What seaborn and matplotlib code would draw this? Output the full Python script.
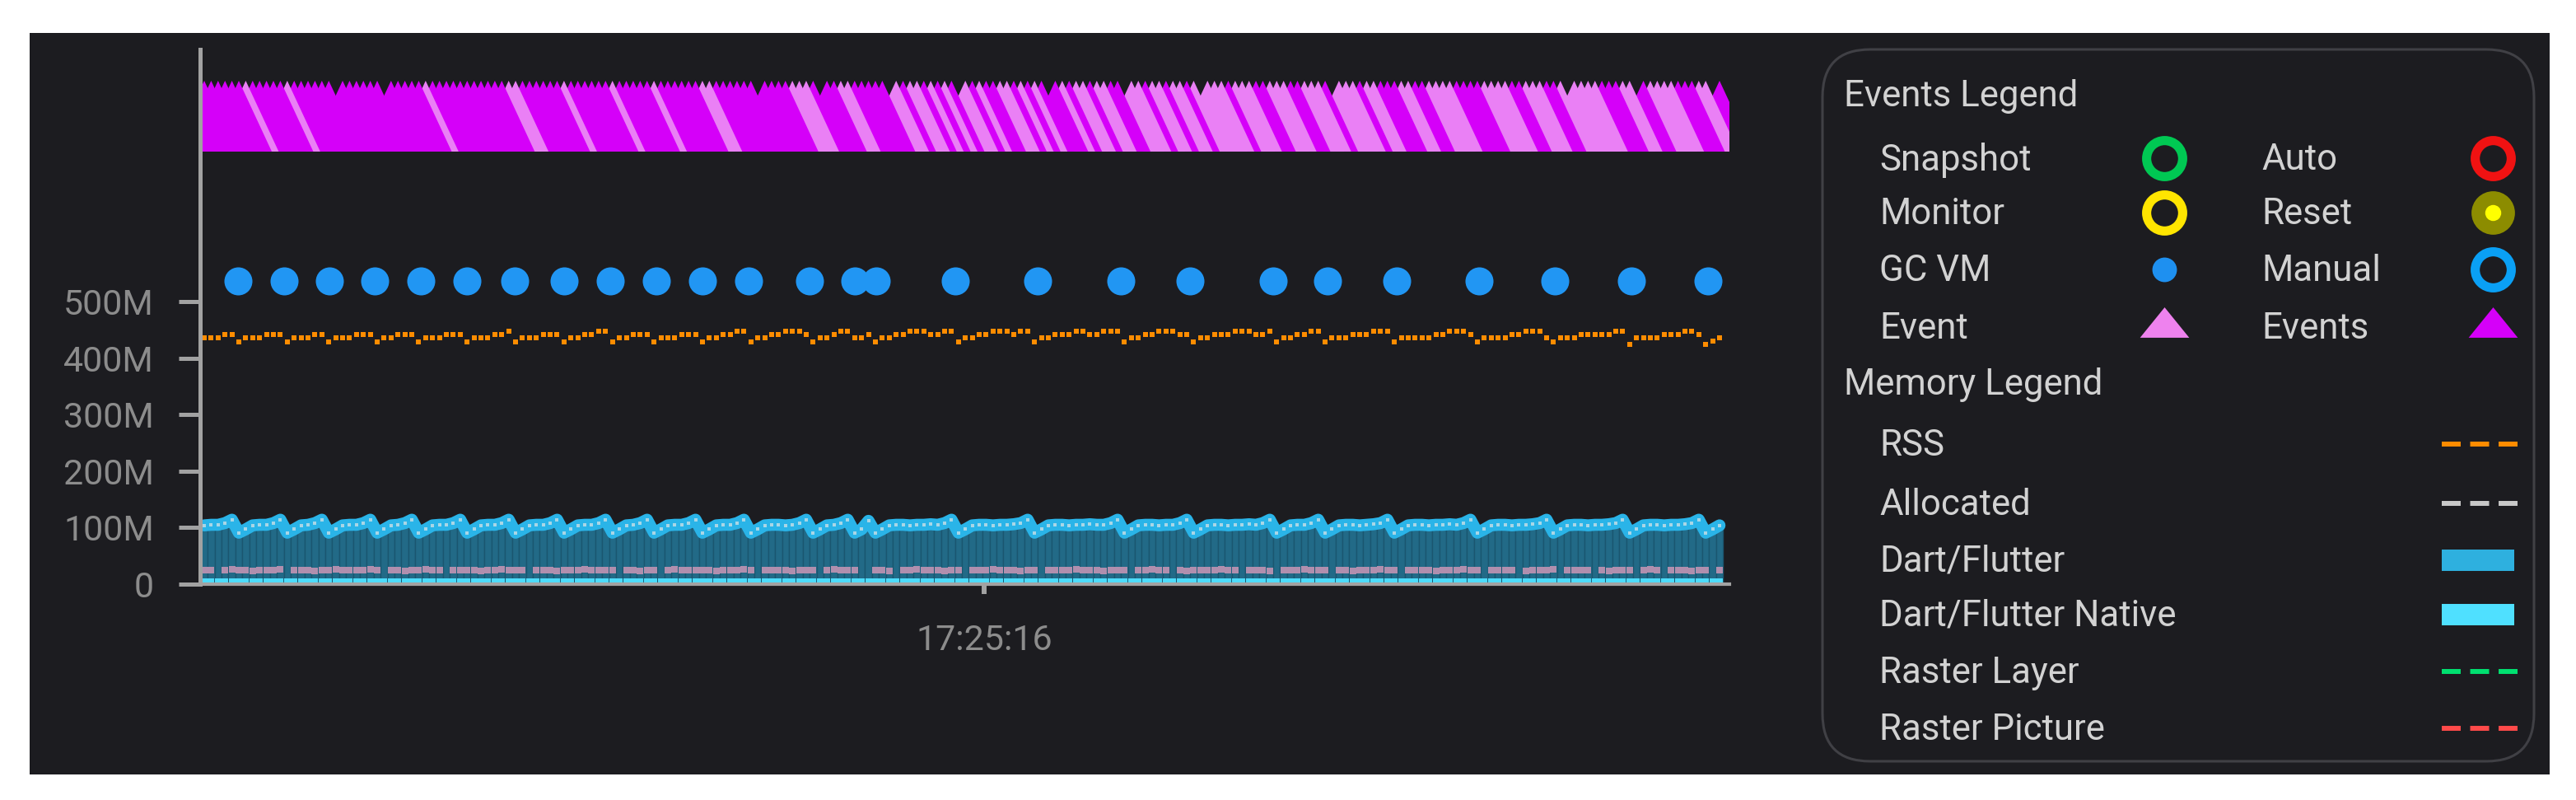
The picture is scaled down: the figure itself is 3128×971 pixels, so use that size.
import numpy as np
import pandas as pd
import matplotlib
matplotlib.use("Agg")
import matplotlib.pyplot as plt
from matplotlib.patches import Rectangle, FancyBboxPatch
import seaborn as sns

# ---------------- data (values in MB, one value per sample) ----------------
RSS_M = [
    436, 436, 436, 442, 442, 429, 436, 436, 436, 442,
    442, 442, 429, 436, 436, 436, 442, 442, 429, 436,
    436, 436, 442, 442, 442, 429, 436, 436, 442, 442,
    442, 429, 436, 436, 436, 442, 442, 442, 429, 436,
    436, 436, 442, 442, 448, 429, 436, 436, 436, 442,
    442, 442, 429, 436, 436, 442, 442, 448, 448, 429,
    436, 436, 442, 442, 442, 429, 436, 436, 436, 442,
    442, 442, 429, 436, 436, 442, 442, 448, 448, 429,
    436, 436, 442, 442, 448, 448, 448, 442, 429, 436,
    436, 442, 448, 448, 436, 436, 442, 429, 436, 436,
    442, 442, 448, 448, 448, 442, 442, 448, 448, 429,
    436, 436, 442, 442, 448, 448, 448, 442, 448, 448,
    429, 436, 436, 442, 442, 442, 448, 448, 442, 442,
    448, 448, 448, 429, 436, 436, 442, 442, 448, 448,
    448, 442, 442, 429, 436, 436, 442, 442, 442, 448,
    448, 448, 442, 442, 448, 429, 436, 436, 442, 442,
    448, 448, 429, 436, 436, 436, 442, 442, 442, 448,
    448, 448, 429, 436, 436, 436, 436, 436, 442, 442,
    448, 448, 448, 442, 429, 436, 436, 436, 436, 442,
    442, 448, 448, 448, 436, 429, 436, 436, 436, 442,
    442, 442, 442, 442, 448, 448, 424, 436, 436, 436,
    436, 442, 442, 442, 448, 448, 442, 424, 430, 436,
]

DART_M = [
    104, 105, 105, 108, 114, 91, 97, 104, 105, 105,
    108, 114, 91, 97, 104, 105, 108, 114, 91, 97,
    104, 105, 105, 108, 114, 91, 97, 104, 105, 108,
    114, 91, 97, 104, 105, 105, 108, 114, 91, 97,
    104, 105, 105, 108, 114, 91, 97, 104, 105, 105,
    108, 114, 91, 97, 104, 105, 105, 108, 114, 91,
    97, 104, 105, 108, 114, 91, 97, 104, 105, 105,
    108, 114, 91, 97, 104, 105, 105, 108, 114, 91,
    97, 104, 105, 105, 104, 105, 108, 114, 91, 97,
    104, 105, 108, 114, 91, 97, 112, 91, 97, 104,
    105, 105, 104, 105, 105, 106, 105, 108, 114, 91,
    97, 104, 105, 105, 104, 105, 105, 106, 108, 114,
    91, 97, 104, 105, 105, 104, 105, 105, 106, 105,
    105, 108, 114, 91, 97, 104, 105, 105, 104, 105,
    105, 108, 114, 91, 97, 104, 105, 105, 104, 105,
    105, 106, 105, 108, 114, 91, 97, 104, 105, 105,
    108, 114, 91, 97, 104, 105, 105, 104, 105, 106,
    108, 114, 91, 97, 104, 105, 105, 104, 105, 105,
    106, 105, 108, 114, 91, 97, 104, 105, 105, 104,
    105, 105, 106, 108, 114, 91, 97, 104, 105, 105,
    104, 105, 105, 106, 108, 114, 91, 97, 104, 105,
    105, 104, 105, 105, 106, 108, 114, 91, 97, 104,
]

NATIVE_M = [
    4, 4, 5, 4, 4, 4, 5, 4, 4, 4,
    4, 5, 4, 4, 4, 4, 4, 5, 4, 4,
    4, 4, 4, 5, 4, 4, 4, 4, 5, 4,
    4, 4, 5, 4, 4, 4, 4, 4, 5, 4,
    4, 5, 4, 4, 4, 4, 5, 4, 4, 4,
    4, 4, 4, 5, 4, 4, 4, 4, 4, 5,
    4, 4, 5, 4, 4, 4, 4, 5, 4, 4,
    4, 4, 4, 4, 5, 4, 4, 4, 5, 4,
    4, 5, 4, 4, 4, 4, 4, 4, 5, 4,
    4, 4, 5, 4, 4, 5, 4, 4, 4, 4,
    5, 4, 4, 4, 4, 5, 4, 4, 4, 4,
    4, 4, 5, 4, 4, 4, 4, 5, 4, 4,
    4, 5, 4, 4, 4, 4, 5, 4, 4, 4,
    4, 4, 4, 5, 4, 4, 4, 4, 5, 4,
    4, 4, 5, 4, 4, 4, 5, 4, 4, 4,
    5, 4, 4, 4, 4, 4, 4, 5, 4, 4,
    4, 4, 4, 5, 4, 4, 4, 4, 4, 5,
    4, 5, 4, 4, 4, 4, 5, 4, 4, 4,
    4, 4, 4, 4, 5, 4, 4, 4, 5, 4,
    4, 5, 4, 4, 4, 4, 4, 5, 4, 4,
    4, 4, 5, 4, 4, 4, 4, 4, 4, 5,
    4, 4, 4, 5, 4, 4, 5, 4, 4, 4,
]

NA = np.nan
ALLOCATED_M = [
    25, 25, NA, 25, 26, 25, 25, 24, 25, 25,
    25, 26, NA, 25, 25, 25, 24, 25, 25, 26,
    25, 25, 25, 25, 26, 25, NA, 25, 25, 24,
    25, 25, 26, 25, 25, NA, 25, 25, 25, 25,
    24, 25, 25, 26, 25, 25, 25, NA, 25, 25,
    25, 24, 25, 25, 25, 26, 25, 25, 25, 25,
    NA, 25, 25, 24, 25, 25, NA, 25, 26, 25,
    25, 25, 25, 25, 24, 25, 25, 25, 26, 25,
    NA, 25, 25, 25, 25, 24, 25, 25, 25, NA,
    25, 26, 25, 25, 25, NA, NA, 25, 25, 24,
    NA, 25, 25, 26, 25, 25, 25, 24, 25, 25,
    NA, 25, 25, 25, 26, 25, 25, 25, 24, 25,
    25, NA, 25, 25, 25, 25, 26, 25, 25, 25,
    24, 25, 25, 25, NA, 25, 25, 26, 25, 25,
    NA, 25, 24, 25, 25, 25, 25, 26, 25, 25,
    NA, 25, 25, 25, 24, NA, 25, 25, 25, 26,
    25, 25, 25, NA, 25, 25, 24, 25, 25, 25,
    26, 25, 25, NA, 25, 25, 25, 25, 24, 25,
    25, 25, 26, 25, 25, NA, 25, 25, 25, 25,
    NA, 24, 25, 25, 25, 26, NA, 25, 25, 25,
    25, NA, 25, 24, 25, 25, 25, NA, 25, 26,
    25, NA, 25, 25, 25, 24, 25, 25, NA, 25,
]

# Event kind per sample: M = "Events", P = "Event", . = no event
EVENT_KIND = list(
    "MMMMMMPMMM" "MMPMMMMMM." "MMMMMM.MMM" "MMPMMMMMMM"
    "MMMMPPMMMM" "MMPMMMMMMP" "MMMMMPMMMM" "MMPPMMMMMM"
    ".MMMMPPPM." "MMPPMMMMM." "PMPPMPMPM." "PMPMMPPMPM"
    "PM.MPMPPMP" "PMM.PPMPPM" "PPMP.PPPMP" "PPMMPPPMMP"
    "PPM.PPPMPP" "MMMPPMMPPP" "PMMMMPPPPM" "MPPPMMP.PP"
    "PPMMMPP.MP" "PPPMMMPP.M"
)

# GC VM events (in sample units)
GC_TIMES = [4.9, 11.5, 18.1, 24.6, 31.3, 38.0, 44.9, 52.0, 58.7, 65.4,
            72.0, 78.7, 87.5, 94.0, 97.1, 108.5, 120.4, 132.5, 142.5,
            154.5, 162.3, 172.4, 184.3, 195.2, 206.3, 217.3]

Y_TICKS_M = [0, 100, 200, 300, 400, 500]
Y_TICK_LABELS = ["0", "100M", "200M", "300M", "400M", "500M"]
X_TICK_POS = [112.7]
X_TICK_LABELS = ["17:25:16"]

EVENT_LANE_M = 828
GC_LANE_M = 536

# ---------------- style ----------------
sns.set_theme(style="dark")
plt.rcParams["font.family"] = ["Roboto", "DejaVu Sans"]

BG = "#1c1c20"
AXIS_GRAY = "#a2a2a2"
LABEL_GRAY = "#8c8c8c"
TEXT = "#d2d2d2"
C_EVENTS = "#d500f9"
C_EVENT = "#ea80f5"
C_GC = "#2196f3"
C_RSS = "#ff8c00"
C_DART = "#2ab4e8"
C_DART_FILL = "#226a87"
C_NATIVE = "#4ddcfb"
C_ALLOC = "#b08fae"

W, H = 3128, 971
fig = plt.figure(figsize=(W / 100, H / 100), dpi=100, facecolor="white")


def fx(px):
    return px / W


def fy(py):
    return 1 - py / H


fig.patches.append(Rectangle((fx(36), fy(940)), fx(3096) - fx(36), fy(40) - fy(940),
                             transform=fig.transFigure, facecolor=BG,
                             edgecolor="none", zorder=-5))

ax = fig.add_axes([fx(243), fy(709), fx(2100) - fx(243), fy(60) - fy(709)])
ax.set_facecolor("none")

n = len(RSS_M)
x = np.arange(n)
mem = pd.DataFrame({"t": x, "rss": RSS_M, "dart": DART_M,
                    "native": NATIVE_M, "alloc": ALLOCATED_M})

# Dart/Flutter area as bars + thick line
ax.bar(mem["t"], mem["dart"], width=1.0, color=C_DART_FILL,
       edgecolor="#1a5670", linewidth=1.0, zorder=2)
sns.lineplot(data=mem, x="t", y="dart", ax=ax, color=C_DART, linewidth=10.5,
             estimator=None, zorder=3, legend=False)
sns.scatterplot(data=mem, x="t", y="dart", ax=ax, marker="s", s=12,
                color="#a9d6e6", linewidth=0, zorder=4, legend=False)
sns.scatterplot(data=mem, x="t", y="alloc", ax=ax, marker="s", s=26,
                color=C_ALLOC, linewidth=0, zorder=4, legend=False)
sns.scatterplot(data=mem, x="t", y="native", ax=ax, marker="s", s=28,
                color=C_NATIVE, linewidth=0, zorder=4, legend=False, clip_on=False)
sns.scatterplot(data=mem, x="t", y="rss", ax=ax, marker="s", s=22,
                color=C_RSS, linewidth=0, zorder=4, legend=False)

# GC VM events
gc = pd.DataFrame({"t": GC_TIMES, "y": [GC_LANE_M] * len(GC_TIMES)})
sns.scatterplot(data=gc, x="t", y="y", ax=ax, marker="o", s=600,
                color=C_GC, linewidth=0, zorder=5, legend=False)

# Events (tall triangles, leftmost on top)
kind_name = {"M": "Events", "P": "Event"}
ev = pd.DataFrame({"t": [i for i, k in enumerate(EVENT_KIND) if k != "."],
                   "kind": [kind_name[k] for k in EVENT_KIND if k != "."]})
ev["y"] = EVENT_LANE_M
ev = ev.iloc[::-1].reset_index(drop=True)
tri = [(-40, -43), (0, 43), (40, -43), (-40, -43)]
sns.scatterplot(data=ev, x="t", y="y", hue="kind", ax=ax, marker=tri, s=3832,
                palette={"Events": C_EVENTS, "Event": C_EVENT},
                linewidth=0, zorder=5, legend=False)

ax.set_xlim(-0.595, 220.43)
ax.set_ylim(0, 946)
ax.set_xlabel("")
ax.set_ylabel("")
ax.grid(False)
for side in ("top", "right"):
    ax.spines[side].set_visible(False)
ax.spines["left"].set_color(AXIS_GRAY)
ax.spines["left"].set_linewidth(3.6)
ax.spines["bottom"].set_color(AXIS_GRAY)
ax.spines["bottom"].set_linewidth(3.0)
ax.spines["left"].set_zorder(6)
ax.spines["bottom"].set_zorder(6)

ax.set_yticks(Y_TICKS_M, Y_TICK_LABELS)
ax.set_xticks(X_TICK_POS, X_TICK_LABELS)
ax.tick_params(axis="y", direction="out", length=18.7, width=3.6, color=AXIS_GRAY,
               pad=21.6, labelsize=31, labelcolor=LABEL_GRAY, left=True)
ax.tick_params(axis="x", direction="out", length=8.6, width=4.3, color=AXIS_GRAY,
               pad=26, labelsize=31, labelcolor=LABEL_GRAY, bottom=True)

# ---------------- legend panel ----------------
lax = fig.add_axes([fx(2200), fy(935), fx(3090) - fx(2200), fy(50) - fy(935)])
lax.set_xlim(2200, 3090)
lax.set_ylim(935, 50)
lax.axis("off")
lax.add_patch(FancyBboxPatch((2213, 60), 864, 864,
                             boxstyle="round,pad=0,rounding_size=58",
                             facecolor="none", edgecolor="#404045", linewidth=2.2))

FS = 31.5
lax.text(2239, 117, "Events Legend", ha="left", va="center", fontsize=FS, color=TEXT)
lax.text(2239, 467, "Memory Legend", ha="left", va="center", fontsize=FS, color=TEXT)

ev_rows = [
    ("Snapshot", "ring", "#00c853", "Auto", "ring", "#f01212"),
    ("Monitor", "ring", "#ffe500", "Reset", "reset", "#8c8c00"),
    ("GC VM", "dot", "#1e90f0", "Manual", "ring", "#0aa0f5"),
    ("Event", "tri", "#ee82ee", "Events", "tri", C_EVENTS),
]
row_y = [194, 260, 329, 399]
small_tri = [(-30, -18.5), (0, 18.5), (30, -18.5), (-30, -18.5)]


def draw_sym(xc, yc, kind, color):
    if kind == "ring":
        lax.plot([xc], [yc], marker="o", ms=31.5, mfc="none", mec=color, mew=8, ls="none")
    elif kind == "dot":
        lax.plot([xc], [yc], marker="o", ms=21.5, mfc=color, mec="none", ls="none")
    elif kind == "reset":
        lax.plot([xc], [yc], marker="o", ms=38, mfc=color, mec="none", ls="none")
        lax.plot([xc], [yc], marker="o", ms=14, mfc="#ffff00", mec="none", ls="none")
    elif kind == "tri":
        lax.plot([xc], [yc - 6], marker=small_tri, ms=43, mfc=color, mec="none", ls="none")


for (l1, k1, c1, l2, k2, c2), yy in zip(ev_rows, row_y):
    lax.text(2282, yy, l1, ha="left", va="center", fontsize=FS, color=TEXT)
    draw_sym(2628, yy - 2, k1, c1)
    lax.text(2746, yy, l2, ha="left", va="center", fontsize=FS, color=TEXT)
    draw_sym(3027, yy - 2, k2, c2)

mem_rows = [
    ("RSS", "dash", C_RSS),
    ("Allocated", "dash", "#c8c8c8"),
    ("Dart/Flutter", "rect", "#2eb0df"),
    ("Dart/Flutter Native", "rect", "#4fe0ff"),
    ("Raster Layer", "dash", "#00e070"),
    ("Raster Picture", "dash", "#ff4a4a"),
]
mem_y = [541, 613, 682, 748, 817, 886]
for (lab, kind, color), yy in zip(mem_rows, mem_y):
    lax.text(2282, yy, lab, ha="left", va="center", fontsize=FS, color=TEXT)
    if kind == "dash":
        lax.plot([2965, 3057], [yy - 2, yy - 2], color=color, lw=4.3,
                 dashes=(3.85, 1.93), dash_capstyle="butt")
    else:
        lax.plot([2965, 3053], [yy - 2, yy - 2], color=color, lw=18.7,
                 solid_capstyle="butt")

fig.savefig("out.png", dpi=100, facecolor="white")
